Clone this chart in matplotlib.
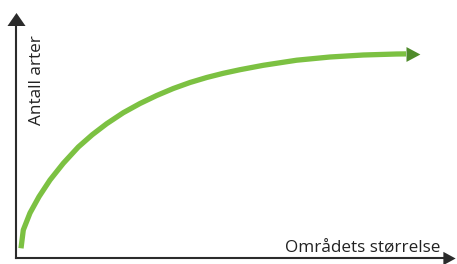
import matplotlib
matplotlib.use("Agg")
import matplotlib.pyplot as plt

# Data (relative to the axes origin, arbitrary units)
area = [5.0, 7.3, 14.0, 23.0, 34.0, 47.3, 62.3, 76.3, 90.7, 107.3, 124.0, 140.7,
        157.3, 174.0, 190.7, 207.3, 224.0, 247.3, 280.7, 314.0, 347.3, 380.7, 390.0]
species = [9.7, 28.0, 45.0, 61.3, 78.0, 94.7, 111.0, 123.3, 134.3, 145.3, 154.5, 162.5,
           169.5, 175.5, 180.5, 184.7, 188.3, 192.7, 197.8, 201.0, 203.0, 204.0, 204.1]

x_label = "Områdets størrelse"
y_label = "Antall arter"

W, H = 457, 264
DPI = 100
fig = plt.figure(figsize=(W / DPI, H / DPI), dpi=DPI)

left_px, bottom_px = 16, 258
right_px, top_px = 449, 18.5
ax = fig.add_axes([left_px / W, (H - bottom_px) / H,
                   (right_px - left_px) / W, (bottom_px - top_px) / H])
ax.set_xlim(0, right_px - left_px)
ax.set_ylim(0, bottom_px - top_px)

axis_col = "#2b2b2b"
for s in ["top", "right"]:
    ax.spines[s].set_visible(False)
for s in ["left", "bottom"]:
    ax.spines[s].set_linewidth(1.5)
    ax.spines[s].set_color(axis_col)
ax.set_xticks([])
ax.set_yticks([])

# axis arrowheads
up_tri = [(-1, -0.72), (1, -0.72), (0, 0.72), (-1, -0.72)]
right_tri = [(-0.92, -1), (0.92, 0), (-0.92, 1), (-0.92, -1)]
ax.plot(0, 1, marker=up_tri, ms=13, color=axis_col, mec="none",
        transform=ax.transAxes, clip_on=False)
ax.plot(1, 0, marker=right_tri, ms=9.6, color=axis_col, mec="none",
        transform=ax.transAxes, clip_on=False)

# curve
green = "#7cc142"
dark_green = "#4f8b2b"
ax.plot(area, species, color=green, lw=3.8, solid_capstyle="butt",
        solid_joinstyle="round", clip_on=False)
head = [(0, -1.07), (2, 0), (0, 1.07), (0, -1.07)]
ax.plot(area[-1], species[-1], marker=head, ms=20, color=dark_green, mec="none",
        clip_on=False)

font = "Open Sans"
ax.text(347, 5, x_label, ha="center", va="baseline", fontsize=12.3,
        family=font, color="#222222")
ax.text(21, 178, y_label, ha="center", va="center", rotation=90, fontsize=12.3,
        family=font, color="#222222")

fig.savefig("out.png", dpi=DPI)
